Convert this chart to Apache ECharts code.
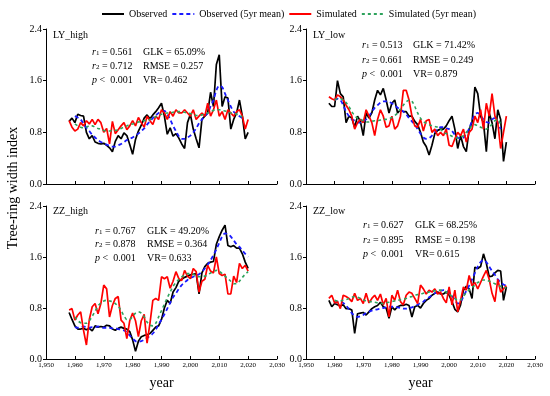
<!DOCTYPE html>
<html>
<head>
    <meta charset="utf-8">
    <title>Tree-ring width index</title>
    <script src="https://cdn.jsdelivr.net/npm/echarts@6/dist/echarts.min.js"></script>
    <style>
        html, body { margin: 0; padding: 0; background: #fff; }
    </style>
</head>
<body>
    <div id="main" style="width: 550px;height:396px;"></div>
    <script type="text/javascript">
        // years of the annual series, 5yr means start in 1960
        var startYear = 1958;
        var meanStart = 1960;

        // LY_high
        var lyHighObs = [0.97, 1.02, 0.95, 1.08, 1.06, 1.05, 0.8, 0.7, 0.75, 0.65,
            0.63, 0.62, 0.63, 0.6, 0.56, 0.5, 0.66, 0.75, 0.7, 0.79,
            0.75, 0.61, 0.46, 0.69, 0.82, 0.91, 1.02, 1.07, 1.01, 1.07,
            1.12, 1.18, 1.25, 1.05, 0.77, 0.87, 0.74, 0.78, 0.71, 0.62,
            0.55, 0.95, 1.08, 0.85, 0.7, 0.56, 1.0, 1.05, 1.1, 1.42,
            1.2, 1.85, 2.0, 1.2, 1.35, 1.33, 0.85, 1.0, 1.1, 1.3,
            1.05, 0.7, 0.8];
        var lyHighSim = [0.98, 0.88, 0.82, 0.85, 0.95, 0.9, 0.98, 0.93, 1.0, 0.92,
            1.0, 0.95, 0.8, 0.86, 0.62, 0.97, 0.78, 0.84, 0.9, 0.95,
            0.84, 0.9, 0.98, 0.9, 1.03, 0.95, 0.88, 1.05, 0.98, 0.92,
            1.05, 1.0, 1.15, 1.1, 1.0, 1.12, 1.05, 1.15, 1.1, 1.1,
            1.15, 1.1, 1.05, 1.15, 1.0, 1.05, 1.1, 1.05, 1.25, 1.05,
            1.15, 1.3, 1.05, 1.12, 1.0, 1.15, 1.1, 1.05, 1.12, 1.15,
            1.05, 0.85, 1.0];
        var lyHighObsMean = [1.05, 1.03, 1.0, 0.93, 0.87, 0.82, 0.76, 0.72, 0.68, 0.65,
            0.63, 0.61, 0.59, 0.58, 0.58, 0.6, 0.62, 0.65, 0.68, 0.7,
            0.72, 0.75, 0.78, 0.82, 0.86, 0.92, 0.97, 1.02, 1.06, 1.1,
            1.12, 1.13, 1.08, 1.0, 0.9, 0.82, 0.74, 0.7, 0.7, 0.72,
            0.75, 0.8, 0.86, 0.94, 1.0, 1.05, 1.1, 1.2, 1.3, 1.45,
            1.52, 1.5, 1.4, 1.3, 1.2, 1.12, 1.08, 1.05, 1.02];
        var lyHighSimMean = [0.93, 0.9, 0.88, 0.87, 0.88, 0.9, 0.9, 0.88, 0.86, 0.85,
            0.83, 0.82, 0.82, 0.83, 0.83, 0.84, 0.86, 0.88, 0.9, 0.92,
            0.93, 0.94, 0.96, 0.97, 0.98, 0.98, 1.0, 1.02, 1.04, 1.06,
            1.08, 1.09, 1.1, 1.1, 1.11, 1.12, 1.12, 1.12, 1.11, 1.1,
            1.09, 1.08, 1.06, 1.06, 1.07, 1.08, 1.1, 1.12, 1.14, 1.15,
            1.15, 1.14, 1.13, 1.12, 1.1, 1.1, 1.08, 1.06, 1.04];

        // LY_low
        var lyLowObs = [1.25, 1.2, 1.2, 1.6, 1.4, 1.35, 0.95, 1.05, 1.02, 0.88,
            1.05, 0.97, 0.75, 1.1, 1.02, 1.1, 1.3, 1.45, 1.38, 1.48,
            1.3, 1.1, 1.25, 1.3, 1.1, 1.15, 1.12, 1.12, 1.05, 1.05,
            0.97, 0.92, 0.8, 0.65, 0.58, 0.45, 0.6, 0.78, 0.83, 0.85,
            0.85, 0.9, 0.98, 1.05, 0.85, 0.55, 0.75, 0.58, 0.5, 0.85,
            0.95, 1.5, 1.4, 1.05, 0.95, 0.5, 1.1, 0.95, 0.7, 1.15,
            1.0, 0.35, 0.65];
        var lyLowSim = [1.35, 1.32, 1.3, 1.38, 1.35, 1.3, 1.22, 1.15, 1.05, 0.85,
            0.95, 1.0, 0.95, 1.15, 1.05, 0.95, 0.75, 1.0, 1.15, 1.05,
            0.88, 0.9, 1.05, 0.85, 0.9, 1.05, 1.45, 1.45, 1.3, 1.05,
            0.9, 0.88, 1.0, 0.82, 0.98, 1.0, 0.8, 0.85, 0.75, 0.8,
            0.75, 0.85, 0.6, 0.58, 0.7, 0.8, 0.75, 0.85, 0.65, 0.8,
            0.85, 1.05, 0.95, 1.15, 0.85, 1.25, 1.05, 1.4, 1.05, 0.95,
            0.55, 0.8, 1.05];
        var lyLowObsMean = [1.3, 1.32, 1.3, 1.22, 1.12, 1.05, 1.0, 0.98, 0.95, 0.95,
            0.97, 1.0, 1.05, 1.12, 1.18, 1.22, 1.26, 1.28, 1.28, 1.27,
            1.25, 1.22, 1.18, 1.15, 1.12, 1.08, 1.02, 0.97, 0.92, 0.85,
            0.78, 0.72, 0.7, 0.71, 0.75, 0.8, 0.85, 0.88, 0.88, 0.86,
            0.85, 0.82, 0.76, 0.72, 0.7, 0.72, 0.78, 0.86, 0.98, 1.08,
            1.1, 1.06, 1.0, 0.96, 0.95, 1.0, 1.02, 0.95, 0.85];
        var lyLowSimMean = [1.3, 1.32, 1.32, 1.3, 1.26, 1.2, 1.12, 1.06, 1.02, 1.0,
            0.98, 0.96, 0.96, 0.97, 0.98, 0.98, 0.99, 1.0, 1.0, 1.01,
            1.03, 1.06, 1.1, 1.16, 1.22, 1.27, 1.3, 1.28, 1.2, 1.1,
            1.02, 0.97, 0.94, 0.92, 0.9, 0.89, 0.88, 0.85, 0.8, 0.78,
            0.76, 0.74, 0.72, 0.71, 0.72, 0.75, 0.8, 0.85, 0.9, 0.92,
            0.9, 0.88, 0.86, 0.85, 0.88, 0.93, 0.98, 1.0, 0.92];

        // ZZ_high
        var zzHighObs = [0.73, 0.62, 0.52, 0.47, 0.47, 0.48, 0.46, 0.48, 0.44, 0.52,
            0.5, 0.51, 0.5, 0.53, 0.52, 0.47, 0.45, 0.48, 0.5, 0.48,
            0.47, 0.43, 0.3, 0.12, 0.28, 0.35, 0.37, 0.38, 0.4, 0.45,
            0.5, 0.52, 0.62, 0.8, 0.92, 0.87, 1.05, 1.12, 1.22, 1.25,
            1.28, 1.3, 1.32, 1.33, 1.34, 1.02, 1.35, 1.45, 1.5, 1.52,
            1.53, 1.8, 1.92, 2.02, 2.1, 1.78, 1.76, 1.78, 1.74, 1.74,
            1.65, 1.52, 1.42];
        var zzHighSim = [0.77, 0.79, 0.61, 0.69, 0.74, 0.45, 0.22, 0.62, 0.82, 0.87,
            0.71, 0.87, 1.16, 1.1, 0.66, 0.84, 0.95, 0.98, 0.61, 0.56,
            0.32, 0.6, 0.72, 0.6, 0.35, 0.6, 0.7, 0.25, 0.56, 0.92,
            0.95, 0.92, 1.29, 1.26, 1.29, 1.11, 1.22, 1.37, 1.26, 1.23,
            1.39, 1.3, 1.26, 1.42, 1.37, 1.05, 1.22, 1.25, 1.47, 1.38,
            1.35, 1.6, 1.34, 1.31, 1.33, 1.02, 1.02, 1.3, 1.2, 1.5,
            1.42, 1.47, 1.38];
        var zzHighObsMean = [0.5, 0.49, 0.5, 0.51, 0.5, 0.49, 0.5, 0.5, 0.51, 0.5,
            0.49, 0.49, 0.49, 0.48, 0.48, 0.47, 0.46, 0.45, 0.42, 0.37,
            0.32, 0.28, 0.27, 0.28, 0.3, 0.33, 0.36, 0.4, 0.46, 0.54,
            0.62, 0.7, 0.79, 0.88, 0.97, 1.03, 1.1, 1.16, 1.2, 1.24,
            1.27, 1.29, 1.31, 1.33, 1.37, 1.42, 1.48, 1.55, 1.63, 1.72,
            1.82, 1.92, 1.97, 1.96, 1.92, 1.86, 1.8, 1.76, 1.7, 1.65,
            1.6];
        var zzHighSimMean = [0.66, 0.6, 0.57, 0.56, 0.56, 0.6, 0.67, 0.75, 0.83, 0.88,
            0.91, 0.92, 0.91, 0.9, 0.87, 0.83, 0.76, 0.68, 0.62, 0.62,
            0.67, 0.72, 0.74, 0.72, 0.66, 0.58, 0.53, 0.52, 0.56, 0.66,
            0.76, 0.86, 0.96, 1.05, 1.14, 1.2, 1.25, 1.29, 1.32, 1.34,
            1.34, 1.33, 1.3, 1.29, 1.29, 1.3, 1.32, 1.35, 1.37, 1.39,
            1.38, 1.34, 1.3, 1.26, 1.22, 1.18, 1.18, 1.22, 1.28, 1.33,
            1.37];

        // ZZ_low
        var zzLowObs = [0.92, 0.82, 0.87, 0.85, 0.83, 0.85, 0.79, 0.79, 0.77, 0.4,
            0.71, 0.72, 0.73, 0.69, 0.74, 0.79, 0.82, 0.84, 0.89, 0.82,
            0.8, 0.64, 0.82, 0.77, 0.82, 0.84, 0.84, 0.86, 0.84, 0.66,
            0.82, 0.84, 0.8, 0.87, 0.92, 0.95, 1.0, 1.03, 1.05, 1.02,
            1.02, 1.05, 1.0, 0.9, 0.78, 0.74, 0.85, 1.08, 1.14, 1.1,
            0.95, 1.44, 1.42, 1.45, 1.65, 1.5, 1.29, 1.3, 1.35, 1.39,
            1.38, 0.92, 1.13];
        var zzLowSim = [0.95, 1.0, 0.88, 0.9, 0.79, 1.0, 0.98, 0.95, 0.9, 1.03,
            0.92, 0.95, 0.87, 1.03, 0.88, 0.95, 1.0, 0.92, 1.02, 0.85,
            0.95, 0.66, 1.0, 0.92, 1.08, 0.9, 0.85, 1.0, 1.05, 1.03,
            0.95, 0.87, 1.16, 1.1, 1.02, 1.08, 1.05, 1.1, 1.02, 1.05,
            0.95, 0.88, 1.13, 0.85, 1.08, 0.74, 0.92, 1.13, 1.08, 1.31,
            1.15, 1.2, 1.1, 1.2, 1.3, 1.39, 1.25, 1.03, 0.9, 1.25,
            1.05, 1.1, 1.15];
        var zzLowObsMean = [0.88, 0.9, 0.9, 0.88, 0.84, 0.78, 0.72, 0.68, 0.66, 0.67,
            0.69, 0.72, 0.74, 0.76, 0.77, 0.78, 0.79, 0.8, 0.81, 0.82,
            0.82, 0.82, 0.81, 0.8, 0.79, 0.79, 0.8, 0.81, 0.83, 0.85,
            0.88, 0.9, 0.94, 0.97, 1.0, 1.03, 1.05, 1.07, 1.08, 1.07,
            1.04, 0.99, 0.93, 0.87, 0.9, 0.98, 1.07, 1.15, 1.25, 1.35,
            1.45, 1.52, 1.55, 1.52, 1.45, 1.38, 1.32, 1.25, 1.2, 1.17,
            1.15];
        var zzLowSimMean = [0.92, 0.91, 0.91, 0.92, 0.93, 0.95, 0.97, 0.98, 0.97, 0.95,
            0.93, 0.91, 0.9, 0.9, 0.89, 0.88, 0.87, 0.87, 0.88, 0.89,
            0.9, 0.91, 0.92, 0.93, 0.94, 0.95, 0.97, 0.98, 1.0, 1.01,
            1.02, 1.03, 1.04, 1.05, 1.06, 1.07, 1.08, 1.08, 1.07, 1.05,
            1.02, 0.98, 0.95, 0.92, 0.93, 0.98, 1.04, 1.08, 1.12, 1.16,
            1.2, 1.22, 1.24, 1.24, 1.22, 1.2, 1.18, 1.16, 1.14, 1.12,
            1.12];

        // panel labels and statistics
        var panelNames = ['LY_high', 'LY_low', 'ZZ_high', 'ZZ_low'];
        var r1Values = ['0.561', '0.513', '0.767', '0.627'];
        var r2Values = ['0.712', '0.661', '0.878', '0.895'];
        var glkValues = ['65.09%', '71.42%', '49.20%', '68.25%'];
        var rmseValues = ['0.257', '0.249', '0.364', '0.198'];
        var vrValues = ['0.462', '0.879', '0.633', '0.615'];
        var seriesNames = ['Observed', 'Observed (5yr mean)', 'Simulated', 'Simulated (5yr mean)'];

        var font = '"Liberation Serif", "Times New Roman", serif';

        function pairs(arr, y0) {
            var out = [];
            for (var i = 0; i < arr.length; i++) {
                out.push([y0 + i, arr[i]]);
            }
            return out;
        }

        var panels = [
            [lyHighObs, lyHighObsMean, lyHighSim, lyHighSimMean],
            [lyLowObs, lyLowObsMean, lyLowSim, lyLowSimMean],
            [zzHighObs, zzHighObsMean, zzHighSim, zzHighSimMean],
            [zzLowObs, zzLowObsMean, zzLowSim, zzLowSimMean]
        ];

        var grids = [
            { left: 46, top: 29, width: 231, height: 155 },
            { left: 306, top: 29, width: 229, height: 155 },
            { left: 46, top: 206, width: 231, height: 153 },
            { left: 306, top: 206, width: 229, height: 153 }
        ];

        var xAxes = [], yAxes = [], series = [];
        for (var k = 0; k < 4; k++) {
            var bottom = k >= 2;
            xAxes.push({
                gridIndex: k,
                type: 'value',
                min: 1950,
                max: 2030,
                interval: 10,
                name: bottom ? 'year' : '',
                nameLocation: 'middle',
                nameGap: 17,
                nameTextStyle: { fontFamily: font, fontSize: 14, color: '#000' },
                axisLine: { show: true, lineStyle: { color: '#000', width: 1 } },
                axisTick: { show: true, inside: true, length: 3, lineStyle: { color: '#000' } },
                axisLabel: { show: bottom, fontFamily: font, fontSize: 7, color: '#000', margin: 3 },
                splitLine: { show: false }
            });
            yAxes.push({
                gridIndex: k,
                type: 'value',
                min: 0,
                max: 2.4,
                interval: 0.8,
                axisLine: { show: true, lineStyle: { color: '#000', width: 1 } },
                axisTick: { show: true, length: 3, lineStyle: { color: '#000' } },
                axisLabel: {
                    fontFamily: font, fontSize: 10, color: '#000', margin: 4,
                    formatter: function(v) { return v.toFixed(1); }
                },
                splitLine: { show: false }
            });

            var p = panels[k];
            series.push({
                name: seriesNames[0], type: 'line', xAxisIndex: k, yAxisIndex: k,
                data: pairs(p[0], startYear), symbol: 'none',
                lineStyle: { color: '#000', width: 1.7 }, itemStyle: { color: '#000' }
            });
            series.push({
                name: seriesNames[1], type: 'line', xAxisIndex: k, yAxisIndex: k,
                data: pairs(p[1], meanStart), symbol: 'none', smooth: 0.3,
                lineStyle: { color: '#1a1aff', width: 1.8, type: [4, 3] }, itemStyle: { color: '#1a1aff' }
            });
            series.push({
                name: seriesNames[2], type: 'line', xAxisIndex: k, yAxisIndex: k,
                data: pairs(p[2], startYear), symbol: 'none',
                lineStyle: { color: '#ff0000', width: 1.7 }, itemStyle: { color: '#ff0000' }
            });
            series.push({
                name: seriesNames[3], type: 'line', xAxisIndex: k, yAxisIndex: k,
                data: pairs(p[3], meanStart), symbol: 'none', smooth: 0.3,
                lineStyle: { color: '#2ea35c', width: 1.6, type: [3, 3] }, itemStyle: { color: '#2ea35c' }
            });
        }

        // text placement for each panel: name, first column, second column, rows
        var textPos = [
            { nx: 53, ny: 35, c1: 92, c2: 143, rows: [52, 66, 80] },
            { nx: 313, ny: 35, c1: 362, c2: 413, rows: [45, 60, 74] },
            { nx: 53, ny: 211, c1: 95, c2: 147, rows: [231, 244, 258] },
            { nx: 313, ny: 211, c1: 363, c2: 415, rows: [225, 240, 254] }
        ];

        var rich = {
            it: { fontStyle: 'italic', fontFamily: font, fontSize: 10, color: '#000' },
            sub: { fontFamily: font, fontSize: 7, color: '#000', verticalAlign: 'bottom', lineHeight: 10 },
            n: { fontFamily: font, fontSize: 10, color: '#000' }
        };

        function txt(x, y, s) {
            return {
                type: 'text', x: x, y: y,
                style: { text: s, rich: rich, fontFamily: font, fontSize: 10, fill: '#000', verticalAlign: 'middle' }
            };
        }

        var graphics = [];
        for (var j = 0; j < 4; j++) {
            var t = textPos[j];
            graphics.push(txt(t.nx, t.ny, panelNames[j]));
            graphics.push(txt(t.c1, t.rows[0], '{it|r}{sub|1}{n| = ' + r1Values[j] + '}'));
            graphics.push(txt(t.c1, t.rows[1], '{it|r}{sub|2}{n| = ' + r2Values[j] + '}'));
            graphics.push(txt(t.c1, t.rows[2], '{it|p}{n| <  0.001}'));
            graphics.push(txt(t.c2, t.rows[0], 'GLK = ' + glkValues[j]));
            graphics.push(txt(t.c2, t.rows[1], 'RMSE = ' + rmseValues[j]));
            graphics.push(txt(t.c2, t.rows[2], 'VR= ' + vrValues[j]));
        }
        graphics.push({
            type: 'text', x: 13, y: 188, rotation: Math.PI / 2,
            style: {
                text: 'Tree-ring width index', fontFamily: font, fontSize: 14, fill: '#000',
                align: 'center', verticalAlign: 'middle'
            }
        });

        var myChart = echarts.init(document.getElementById('main'));
        var option = {
            animation: false,
            backgroundColor: '#fff',
            legend: {
                data: seriesNames,
                left: 96,
                top: 4,
                itemWidth: 22,
                itemHeight: 10,
                itemGap: 4,
                itemStyle: { opacity: 0 },
                textStyle: { fontFamily: font, fontSize: 10, color: '#000' }
            },
            grid: grids,
            xAxis: xAxes,
            yAxis: yAxes,
            series: series,
            graphic: graphics
        };
        myChart.setOption(option);
    </script>
</body>
</html>
